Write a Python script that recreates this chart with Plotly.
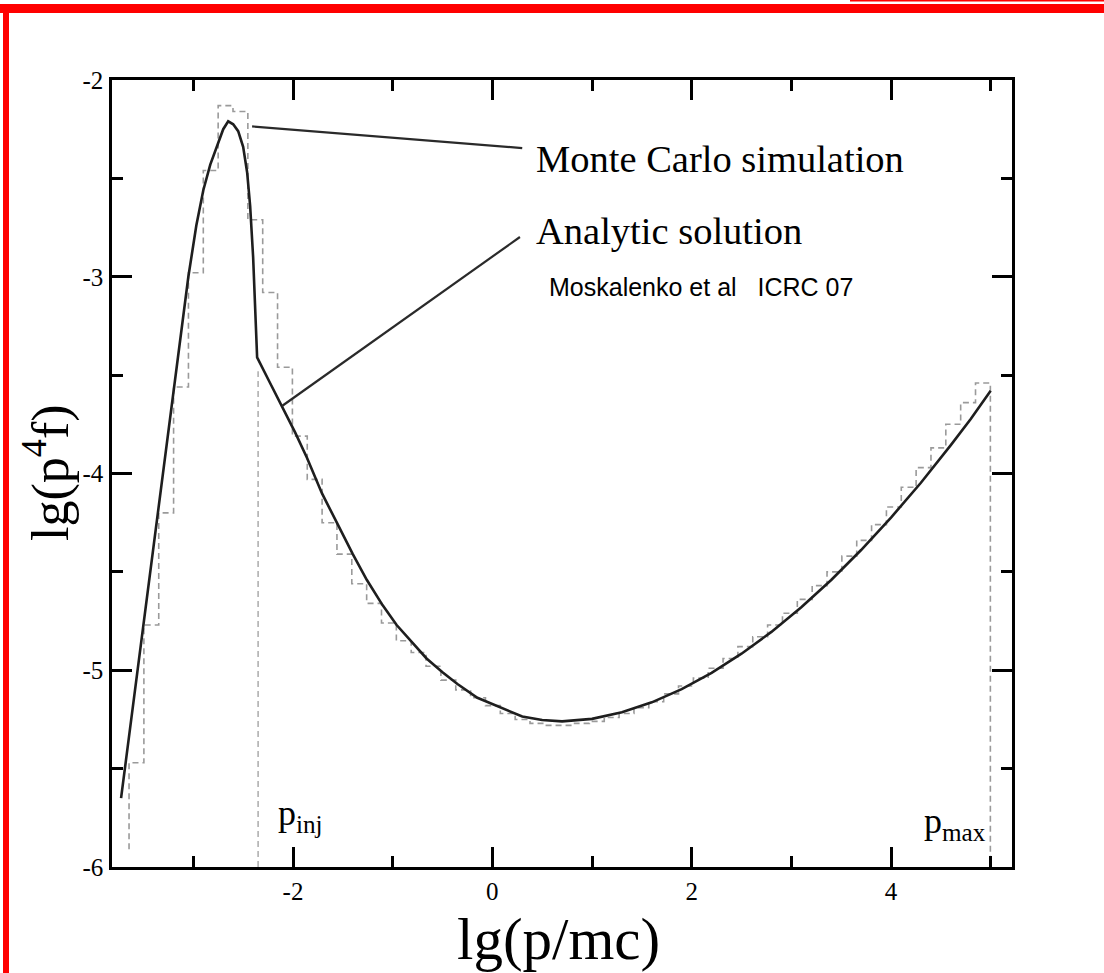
import plotly.graph_objects as go

# ---------------- data ----------------
ANALYTIC_X = [-3.725, -3.50, -3.35, -3.20, -3.05, -2.97, -2.90, -2.83, -2.76, -2.70,
              -2.65, -2.60, -2.55, -2.50, -2.46, -2.43, -2.40, -2.38, -2.36,
              -2.23, -2.11, -1.98, -1.86, -1.71, -1.56, -1.40, -1.26, -1.10, -0.96,
              -0.80, -0.66, -0.50, -0.35, -0.15, 0.08, 0.30, 0.50, 0.70,
              1.00, 1.30, 1.60, 1.90, 2.20, 2.50, 2.80, 3.10, 3.40, 3.70, 4.00,
              4.30, 4.60, 4.80, 5.00]
ANALYTIC_Y = [-5.65, -4.77, -4.19, -3.60, -3.00, -2.74, -2.56, -2.43, -2.33, -2.25,
              -2.21, -2.225, -2.26, -2.34, -2.47, -2.64, -2.90, -3.12, -3.41,
              -3.54, -3.66, -3.79, -3.92, -4.10, -4.25, -4.41, -4.54, -4.67, -4.77,
              -4.86, -4.94, -5.01, -5.07, -5.14, -5.19, -5.235, -5.253, -5.26,
              -5.247, -5.213, -5.163, -5.096, -5.013, -4.916, -4.805, -4.680, -4.541,
              -4.389, -4.224, -4.047, -3.856, -3.723, -3.58]

MC_EDGES = [-3.645, -3.496, -3.347, -3.198, -3.049, -2.900, -2.751, -2.602, -2.453, -2.304,
            -2.155, -2.006, -1.857, -1.708, -1.559, -1.410, -1.261, -1.112, -0.963, -0.814,
            -0.665, -0.516, -0.367, -0.218, -0.069, 0.080, 0.229, 0.378, 0.527, 0.676,
            0.825, 0.974, 1.123, 1.272, 1.421, 1.570, 1.719, 1.868, 2.017, 2.166,
            2.315, 2.464, 2.613, 2.762, 2.911, 3.060, 3.209, 3.358, 3.507, 3.656,
            3.805, 3.954, 4.103, 4.252, 4.401, 4.550, 4.699, 4.848, 4.997]
MC_VALUES = [-5.47, -4.77, -4.20, -3.56, -2.98, -2.46, -2.13, -2.16, -2.71, -3.08,
             -3.46, -3.81, -4.03, -4.25, -4.41, -4.56, -4.66, -4.76, -4.85, -4.91,
             -4.98, -5.05, -5.10, -5.14, -5.18, -5.22, -5.25, -5.27, -5.28, -5.28,
             -5.27, -5.26, -5.24, -5.22, -5.19, -5.16, -5.12, -5.08, -5.04, -4.99,
             -4.94, -4.88, -4.83, -4.77, -4.71, -4.64, -4.57, -4.50, -4.42, -4.34,
             -4.26, -4.17, -4.07, -3.97, -3.87, -3.75, -3.64, -3.54]
MC_START = -5.91
MC_END = -6.0

P_INJ = -2.35
P_INJ_TOP = -3.48

X_TICKS = [-2, 0, 2, 4]
X_TICK_LABELS = ["-2", "0", "2", "4"]
X_MINOR = [-3, -1, 1, 3, 5]
Y_TICKS = [-6, -5, -4, -3, -2]
Y_TICK_LABELS = ["-6", "-5", "-4", "-3", "-2"]
Y_MINOR = [-5.5, -4.5, -3.5, -2.5]

# ---------------- build histogram outline ----------------
hx = [MC_EDGES[0]]
hy = [MC_START]
for k, v in enumerate(MC_VALUES):
    hx += [MC_EDGES[k], MC_EDGES[k + 1]]
    hy += [v, v]
hx.append(MC_EDGES[-1])
hy.append(MC_END)

W, H = 1104, 973
ML, MR, MT, MB = 112, 92, 80, 106
PW, PH = W - ML - MR, H - MT - MB


def px(x):
    return (x - ML) / PW


def py(y):
    return (H - MB - y) / PH


SERIF = "Liberation Serif"

fig = go.Figure()
fig.add_trace(go.Scatter(x=hx, y=hy, mode="lines",
                         line=dict(color="#9a9a9a", width=1.6, dash="6px,4px"),
                         hoverinfo="skip", showlegend=False))
fig.add_trace(go.Scatter(x=[P_INJ, P_INJ], y=[-6, P_INJ_TOP], mode="lines",
                         line=dict(color="#b0b0b0", width=1.6, dash="6px,4px"),
                         hoverinfo="skip", showlegend=False))
fig.add_trace(go.Scatter(x=ANALYTIC_X, y=ANALYTIC_Y, mode="lines",
                         line=dict(color="#1e1e1e", width=2.6),
                         hoverinfo="skip", showlegend=False))

axis_common = dict(showline=True, linewidth=2.5, linecolor="black", mirror="ticks",
                   ticks="inside", ticklen=20, tickwidth=2.5, tickcolor="black",
                   showgrid=False, zeroline=False)

fig.update_layout(
    width=W, height=H, autosize=False,
    margin=dict(l=ML, r=MR, t=MT, b=MB),
    paper_bgcolor="white", plot_bgcolor="white",
    font=dict(family=SERIF, size=25, color="black"),
    xaxis=dict(range=[-3.816, 5.214], tickmode="array", tickvals=X_TICKS,
               ticktext=X_TICK_LABELS, ticklabelstandoff=0,
               minor=dict(ticks="inside", ticklen=11, tickwidth=2.5, tickcolor="black",
                          tickvals=X_MINOR, showgrid=False),
               **axis_common),
    yaxis=dict(range=[-6, -2], tickmode="array", tickvals=Y_TICKS,
               ticktext=Y_TICK_LABELS, ticklabelstandoff=1,
               minor=dict(ticks="inside", ticklen=11, tickwidth=2.5, tickcolor="black",
                          tickvals=Y_MINOR, showgrid=False),
               **axis_common),
)
fig.update_xaxes(tickfont_family=SERIF, tickfont_size=25, tickfont_color="black")
fig.update_yaxes(tickfont_family=SERIF, tickfont_size=25, tickfont_color="black")

shapes = [
    # leader lines
    dict(type="line", xref="x", yref="y", x0=-2.41, y0=-2.236, x1=0.30, y1=-2.346,
         line=dict(color="#2a2a2a", width=2.2)),
    dict(type="line", xref="x", yref="y", x0=-2.11, y0=-3.657, x1=0.277, y1=-2.798,
         line=dict(color="#2a2a2a", width=2.2)),
    # red frame
    dict(type="rect", xref="paper", yref="paper", x0=px(3), x1=px(9), y0=py(H), y1=py(4),
         fillcolor="#ff0000", line=dict(width=0), layer="above"),
    dict(type="rect", xref="paper", yref="paper", x0=px(0), x1=px(W), y0=py(13), y1=py(4),
         fillcolor="#ff0000", line=dict(width=0), layer="above"),
    dict(type="rect", xref="paper", yref="paper", x0=px(850), x1=px(W), y0=py(1.5), y1=py(0),
         fillcolor="#ff0000", line=dict(width=0), layer="above"),
]
fig.update_layout(shapes=shapes)

annotations = [
    dict(text="Monte Carlo simulation", x=0.42, y=-2.40, xref="x", yref="y",
         xanchor="left", yanchor="middle", showarrow=False,
         font=dict(family=SERIF, size=38.5, color="black")),
    dict(text="Analytic solution", x=0.42, y=-2.765, xref="x", yref="y",
         xanchor="left", yanchor="middle", showarrow=False,
         font=dict(family=SERIF, size=38.5, color="black")),
    dict(text="Moskalenko et al&nbsp;&nbsp;&nbsp;ICRC 07", x=0.55, y=-3.05, xref="x", yref="y",
         xanchor="left", yanchor="middle", showarrow=False,
         font=dict(family="Liberation Sans", size=25, color="black")),
    dict(text="p<sub>inj</sub>", x=-2.17, y=-5.74, xref="x", yref="y",
         xanchor="left", yanchor="middle", showarrow=False,
         font=dict(family=SERIF, size=36, color="black")),
    dict(text="p<sub>max</sub>", x=4.97, y=-5.78, xref="x", yref="y",
         xanchor="right", yanchor="middle", showarrow=False,
         font=dict(family=SERIF, size=36, color="black")),
    dict(text="lg(p/mc)", x=px(558), y=py(939), xref="paper", yref="paper",
         xanchor="center", yanchor="middle", showarrow=False, borderpad=0,
         font=dict(family=SERIF, size=59, color="black")),
    dict(text="lg(p<sup>4</sup>f)", x=px(47), y=py(473), xref="paper", yref="paper",
         xanchor="center", yanchor="middle", showarrow=False, textangle=-90,
         font=dict(family=SERIF, size=52, color="black")),
]
fig.update_layout(annotations=annotations)

fig.write_html("out.html")
